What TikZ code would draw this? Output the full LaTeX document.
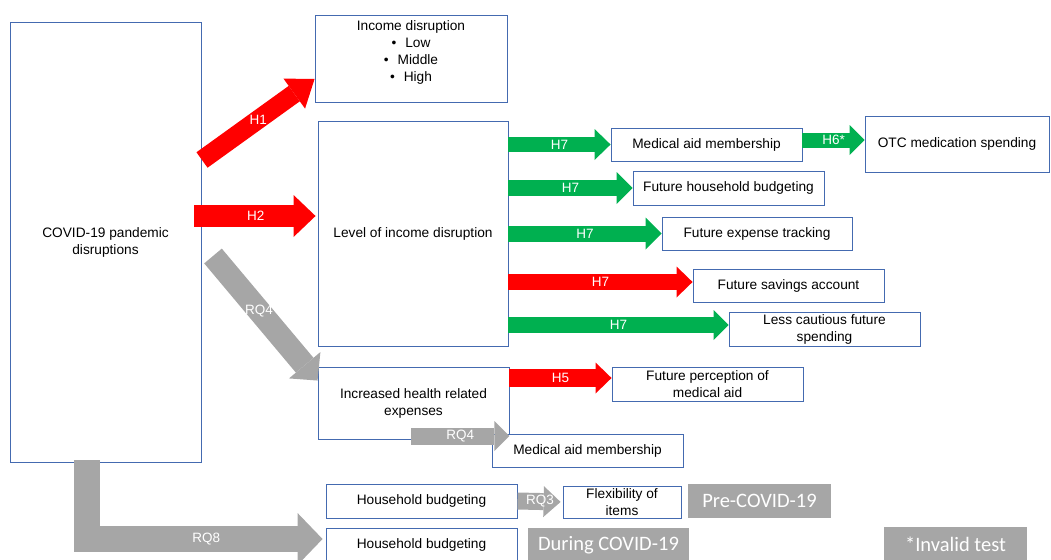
\documentclass[tikz,border=0pt]{standalone}
\usepackage{fontspec}
\setmainfont{Liberation Sans}
\newfontfamily\tagfont{Carlito}
\usetikzlibrary{arrows.meta}

\definecolor{boxblue}{RGB}{68,106,176}
\definecolor{hgreen}{RGB}{0,176,80}
\definecolor{hred}{RGB}{255,0,0}
\definecolor{hgray}{RGB}{166,166,166}

\begin{document}
\begin{tikzpicture}[x=1pt,y=-1pt]

\tikzset{
    box/.style args={#1and#2}{
        draw=boxblue,
        line width=0.9pt,
        fill=white,
        align=center,
        inner sep=0pt,
        minimum width=#1,
        minimum height=#2,
        font=\fontsize{13.7}{17}\selectfont,
    },
    tag/.style args={#1and#2}{
        fill=hgray,
        text=white,
        inner sep=0pt,
        minimum width=#1,
        minimum height=#2,
        font=\tagfont\fontsize{20.5}{24}\selectfont,
    },
    fat/.style n args={3}{
        line width=#1pt,
        -{Triangle[width=#2pt,length=#3pt,line width=0pt]},
    },
    fat label/.style={
        midway,
        text=white,
        inner sep=0pt,
        font=\fontsize{13.5}{15}\selectfont,
    }
}

\useasboundingbox (0,0) rectangle (1051,559);
\clip (0,0) rectangle (1051,559);

\node (covid) [box=191 and 440] at (105.5,242) {COVID-19 pandemic\\disruptions};
\node (income) [box=192 and 87, text depth=15pt] at (411,58.5) {Income disruption\\\textbullet\hspace{9pt}Low\\\textbullet\hspace{9pt}Middle\\\textbullet\hspace{9pt}High};
\node (level) [box=190 and 225] at (413,233.5) {Level of income disruption};
\node (health) [box=191 and 72] at (413.5,403) {Increased health related\\expenses};

\node (med) [box=191 and 33] at (706.5,144.5) {Medical aid membership};
\node (otc) [box=184 and 56] at (957,144) {OTC medication spending};
\node (fhb) [box=191 and 34] at (728.5,188) {Future household budgeting};
\node (fet) [box=190 and 33] at (757,233.5) {Future expense tracking};
\node (fsa) [box=191 and 33] at (788.5,285.5) {Future savings account};
\node (lcs) [box=191 and 34] at (824.5,329) {Less cautious future\\spending};
\node (fpm) [box=191 and 34] at (707.5,384) {Future perception of\\medical aid};
\node (medb) [box=191 and 33] at (587.5,450.5) {Medical aid membership};

\node (hb1) [box=191 and 34] at (421.5,501) {Household budgeting};
\node (hb2) [box=191 and 34] at (421.5,545) {Household budgeting};
\node (flex) [box=118 and 32] at (622,502) {Flexibility of\\items};

\node (pre) [tag=143 and 34] at (759.5,501) {Pre-COVID-19};
\node (during) [tag=161 and 34] at (608.5,545) {During COVID-19};
\node (invalid) [tag=143 and 34] at (955.5,544) {*Invalid test};

\coordinate (h1s) at (202,160);
\coordinate (h2s) at (194,216);
\coordinate (rq4s) at (213,256);
\coordinate (rq4t) at (411,436);
\coordinate (rq8s) at (87,460);

\draw[fat={19}{37}{25}, hred] (h1s) -- (income.west |- 0,79) node[fat label] {H1};
\draw[fat={22}{42}{22}, hred, shorten >=2pt] (h2s) -- (h2s -| level.west) node[fat label] {H2};
\draw[fat={23}{41}{20}, hgray] (rq4s) -- ([yshift=-14pt]health.north west) node[fat label, pos=0.44] {RQ4};

\draw[fat={15}{31}{16}, hgreen] (level.east |- med.west) -- (med.west) node[fat label] {H7};
\draw[fat={16}{32}{16}, hgreen] (level.east |- fhb.west) -- (fhb.west) node[fat label] {H7};
\draw[fat={16}{32}{16}, hgreen] (level.east |- fet.west) -- (fet.west) node[fat label] {H7};
\draw[fat={16}{31}{16}, hred] (level.east |- 0,282) -- (fsa.west |- 0,282) node[fat label] {H7};
\draw[fat={16}{30}{15}, hgreen] (level.east |- 0,325) -- (lcs.west |- 0,325) node[fat label] {H7};
\draw[fat={15}{30}{15}, hgreen] (med.east |- 0,140) -- (otc.west |- 0,140) node[fat label] {H6*};

\draw[fat={18}{31}{16}, hred] (health.east |- 0,378) -- (fpm.west |- 0,378) node[fat label] {H5};
\draw[fat={17}{30}{15}, hgray] (rq4t) -- (rq4t -| health.east) node[fat label] {RQ4};
\draw[fat={17}{31}{17}, hgray, shorten >=2pt] (hb1.east) -- (flex.west) node[fat label] {RQ3};
\draw[fat={26}{52}{25}, hgray, shorten >=3pt] (rq8s) |- (hb2.west |- 0,539) node[fat label, pos=0.75] {RQ8};

\end{tikzpicture}
\end{document}
